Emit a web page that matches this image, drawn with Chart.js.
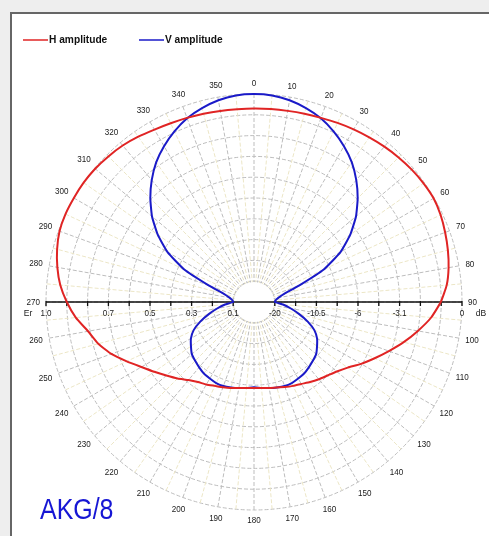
<!DOCTYPE html>
<html>
<head>
<meta charset="utf-8">
<script src="https://cdn.jsdelivr.net/npm/chart.js@4.4.0/dist/chart.umd.min.js"></script>
<style>
  html, body { margin: 0; padding: 0; background: #eeeeee; width: 489px; height: 536px; overflow: hidden; }
  #panel { position: absolute; left: 10px; top: 12px; width: 520px; height: 560px; background: #fff; border: 2px solid #666; box-sizing: border-box; }
  #chart { position: absolute; left: 0; top: 0; }
</style>
</head>
<body>
<div id="panel"></div>
<canvas id="chart" width="489" height="536"></canvas>
<script>
// ========== DATA ==========
const angles = [0, 5, 10, 15, 20, 25, 30, 35, 40, 45, 50, 55, 60, 65, 70, 75, 80, 85,
  90, 95, 100, 105, 110, 115, 120, 125, 130, 135, 140, 145, 150, 155, 160, 165, 170, 175,
  180, 185, 190, 195, 200, 205, 210, 215, 220, 225, 230, 235, 240, 245, 250, 255, 260, 265,
  270, 275, 280, 285, 290, 295, 300, 305, 310, 315, 320, 325, 330, 335, 340, 345, 350, 355];

// relative field strength Er (0..1)
const hAmplitude = [0.93, 0.931, 0.933, 0.937, 0.942, 0.95, 0.958, 0.966, 0.975, 0.983, 0.99, 0.995, 0.997, 0.99, 0.978, 0.965, 0.95, 0.93,
  0.898, 0.855, 0.80, 0.745, 0.69, 0.64, 0.595, 0.55, 0.52, 0.50, 0.485, 0.47, 0.455, 0.445, 0.435, 0.425, 0.42, 0.415,
  0.413, 0.415, 0.42, 0.428, 0.436, 0.445, 0.458, 0.47, 0.49, 0.52, 0.55, 0.585, 0.625, 0.675, 0.73, 0.775, 0.81, 0.86,
  0.90, 0.935, 0.96, 0.98, 0.995, 1.0, 1.0, 1.0, 0.997, 0.99, 0.982, 0.97, 0.957, 0.948, 0.942, 0.937, 0.933, 0.93];

const vAmplitude = [1.0, 0.997, 0.985, 0.965, 0.94, 0.905, 0.865, 0.82, 0.765, 0.705, 0.64, 0.565, 0.48, 0.37, 0.23, 0.15, 0.12, 0.105,
  0.10, 0.14, 0.18, 0.225, 0.275, 0.32, 0.35, 0.37, 0.39, 0.40, 0.41, 0.42, 0.425, 0.43, 0.43, 0.425, 0.42, 0.415,
  0.41, 0.415, 0.42, 0.425, 0.43, 0.43, 0.425, 0.42, 0.41, 0.40, 0.39, 0.37, 0.35, 0.32, 0.275, 0.225, 0.18, 0.14,
  0.10, 0.105, 0.12, 0.15, 0.23, 0.37, 0.48, 0.565, 0.64, 0.705, 0.765, 0.82, 0.865, 0.905, 0.94, 0.965, 0.985, 0.997];

// labels along the horizontal axis
const erTicks = [1.0, 0.7, 0.5, 0.3, 0.1];
const erLabels = ["1.0", "0.7", "0.5", "0.3", "0.1"];
const dbLabels = ["0", "-3.1", "-6", "-10.5", "-20"];

const seriesNames = ["H amplitude", "V amplitude"];
const seriesColors = ["#e02424", "#1a1ac8"];

// ========== DRAW HELPERS ==========
function drawText(ctx, str, x, y, font, color, align, sx) {
  ctx.save();
  ctx.font = font;
  ctx.fillStyle = color;
  ctx.textBaseline = "middle";
  ctx.translate(x, y);
  ctx.scale(sx || 1, 1);
  ctx.textAlign = align || "center";
  ctx.fillText(str, 0, 0);
  ctx.restore();
}

const polarDecor = {
  id: "polarDecor",
  beforeDatasetsDraw(chart) {
    const s = chart.scales.r;
    const ctx = chart.ctx;
    const cx = s.xCenter, cy = s.yCenter;
    const rMax = s.getDistanceFromCenterForValue(1);
    const small = "9.5px 'Liberation Sans', Arial, sans-serif";

    // empty hole in the middle
    ctx.save();
    ctx.fillStyle = "#fff";
    ctx.beginPath();
    ctx.arc(cx, cy, s.getDistanceFromCenterForValue(0.1) - 0.8, 0, Math.PI * 2);
    ctx.fill();

    // horizontal axis with ticks
    ctx.strokeStyle = "#111";
    ctx.lineWidth = 1.3;
    ctx.beginPath();
    ctx.moveTo(cx - rMax, cy);
    ctx.lineTo(cx + rMax, cy);
    s.ticks.forEach(t => {
      if (t.value < 0.05) return;
      const d = s.getDistanceFromCenterForValue(t.value);
      ctx.moveTo(cx - d, cy - 1);
      ctx.lineTo(cx - d, cy + 4);
      ctx.moveTo(cx + d, cy - 1);
      ctx.lineTo(cx + d, cy + 4);
    });
    ctx.stroke();
    ctx.restore();

    erTicks.forEach((v, i) => {
      const d = s.getDistanceFromCenterForValue(v);
      drawText(ctx, erLabels[i], cx - d, cy + 11, small, "#1a1a1a", "center", 0.85);
      drawText(ctx, dbLabels[i], cx + d, cy + 11, small, "#1a1a1a", "center", 0.85);
    });
    drawText(ctx, "Er", cx - rMax - 18, cy + 11, small, "#1a1a1a", "center", 0.9);
    drawText(ctx, "dB", cx + rMax + 19, cy + 11, small, "#1a1a1a", "center", 0.9);

    // angle labels every 10 degrees
    ctx.save();
    ctx.font = small;
    angles.forEach((a, i) => {
      if (a % 10 !== 0) return;
      const txt = String(a);
      const w = ctx.measureText(txt).width * 0.85;
      const rad = a * Math.PI / 180;
      const d = rMax + 6 + (w / 2) * Math.abs(Math.sin(rad)) + 4.5 * Math.abs(Math.cos(rad));
      const p = s.getPointPosition(i, d);
      drawText(ctx, txt, p.x, p.y, small, "#1a1a1a", "center", 0.85);
    });
    ctx.restore();
  },
  afterDraw(chart) {
    const ctx = chart.ctx;
    // legend
    const legendX = [23, 139];
    ctx.save();
    seriesNames.forEach((name, i) => {
      ctx.strokeStyle = seriesColors[i];
      ctx.lineWidth = 1.5;
      ctx.beginPath();
      ctx.moveTo(legendX[i], 40);
      ctx.lineTo(legendX[i] + 25, 40);
      ctx.stroke();
      drawText(ctx, name, legendX[i] + 26, 40.5, "bold 10.5px 'Liberation Sans', Arial, sans-serif", "#111", "left", 0.97);
    });
    ctx.restore();
    // model name
    ctx.save();
    ctx.font = "29px 'Liberation Sans', Arial, sans-serif";
    ctx.fillStyle = "#1616d4";
    ctx.textBaseline = "alphabetic";
    ctx.translate(40, 519);
    ctx.scale(0.86, 1);
    ctx.fillText("AKG/8", 0, 0);
    ctx.restore();
  }
};

// ========== CHART ==========
new Chart(document.getElementById("chart"), {
  type: "radar",
  data: {
    labels: angles,
    datasets: [
      { label: seriesNames[0], data: hAmplitude, borderColor: seriesColors[0], borderWidth: 2, pointRadius: 0, fill: false },
      { label: seriesNames[1], data: vAmplitude, borderColor: seriesColors[1], borderWidth: 2, pointRadius: 0, fill: false }
    ]
  },
  options: {
    responsive: false,
    animation: false,
    devicePixelRatio: 1,
    layout: { padding: { left: 46, right: 26, top: 94, bottom: 25 } },
    elements: { line: { tension: 0.15 } },
    plugins: { legend: { display: false }, tooltip: { enabled: false } },
    scales: {
      r: {
        min: 0,
        max: 1,
        ticks: { display: false, stepSize: 0.1 },
        pointLabels: { display: false },
        grid: { circular: true, color: "#bdbdbd", lineWidth: 1 },
        border: { dash: [4, 2] },
        angleLines: {
          color: c => (c.index % 2 === 0 ? "#bdbdbd" : "#ece6c6"),
          lineWidth: 1,
          borderDash: [4, 2]
        }
      }
    }
  },
  plugins: [polarDecor]
});
</script>
</body>
</html>
